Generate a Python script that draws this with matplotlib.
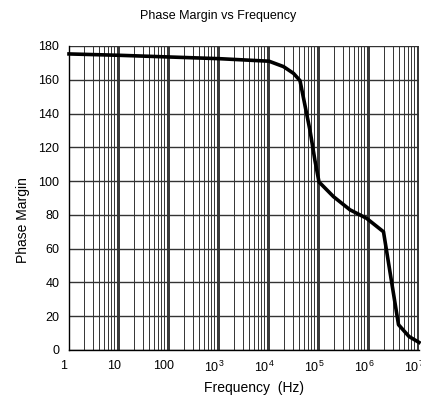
import numpy as np
import matplotlib
matplotlib.use('Agg')
import matplotlib.pyplot as plt
import matplotlib.transforms as mtransforms
from matplotlib.ticker import FixedLocator, FixedFormatter, LogLocator, NullFormatter

plt.rcParams['font.family'] = ['Liberation Sans', 'DejaVu Sans']
plt.rcParams['mathtext.fontset'] = 'custom'
plt.rcParams['mathtext.rm'] = 'Liberation Sans'
plt.rcParams['mathtext.it'] = 'Liberation Sans'

# curve: log10(frequency) and phase margin
log_freq = [0, 1, 2, 3, 4, 4.29, 4.49, 4.62, 4.82, 4.92, 5.0, 5.29, 5.62, 5.95,
            6.29, 6.59, 6.8, 7.0]
phase_margin = [175.3, 174.5, 173.5, 172.5, 171.0, 167.8, 163.8, 159.5, 130.0,
                112.0, 99.5, 90.8, 83.0, 78.0, 70.0, 15.0, 8.0, 4.5]

x_ticks = [1, 10, 100, 1e3, 1e4, 1e5, 1e6, 1e7]
x_tick_labels = ['1', '10', '100', '$10^3$', '$10^4$', '$10^5$', '$10^6$', '$10^7$']
y_ticks = list(range(0, 181, 20))

freq = [10 ** v for v in log_freq]

fig = plt.figure(figsize=(4.21, 4.03), dpi=100)
ax = fig.add_axes([69 / 421, 1 - 350 / 403, 350 / 421, 304 / 403])

ax.set_xscale('log')
ax.set_xlim(1, 1e7)
ax.set_ylim(0, 180)

ax.xaxis.set_major_locator(FixedLocator(x_ticks))
ax.xaxis.set_major_formatter(FixedFormatter(x_tick_labels))
ax.xaxis.set_minor_locator(LogLocator(base=10, subs=np.arange(2, 10), numticks=20))
ax.xaxis.set_minor_formatter(NullFormatter())
ax.set_yticks(y_ticks)

ax.grid(True, which='major', axis='x', color='black', lw=1.1)
ax.grid(True, which='minor', axis='x', color='#333333', lw=0.7)
ax.grid(True, which='major', axis='y', color='#333333', lw=1.0)
ax.set_axisbelow(True)

ax.plot(freq, phase_margin, '-', color='black', lw=2.6, solid_joinstyle='round',
        clip_on=False, zorder=5)

ax.tick_params(axis='both', which='both', length=0, labelsize=9)
ax.tick_params(axis='x', pad=7)
ax.tick_params(axis='y', pad=7)
shift = mtransforms.ScaledTranslation(-5 / 100, 0, fig.dpi_scale_trans)
for lab in ax.get_xticklabels():
    lab.set_transform(lab.get_transform() + shift)

for side in ['top', 'right']:
    ax.spines[side].set_visible(False)
ax.spines['left'].set_linewidth(1.0)
ax.spines['bottom'].set_linewidth(1.0)

fig.text(218 / 421, 1 - 16 / 403, 'Phase Margin vs Frequency', ha='center', va='center',
         fontsize=9)
fig.text(254 / 421, 1 - 388 / 403, 'Frequency  (Hz)', ha='center', va='center',
         fontsize=10)
fig.text(23 / 421, 1 - 220 / 403, 'Phase Margin', ha='center', va='center',
         rotation=90, fontsize=10)

plt.savefig('out.png', dpi=100)
